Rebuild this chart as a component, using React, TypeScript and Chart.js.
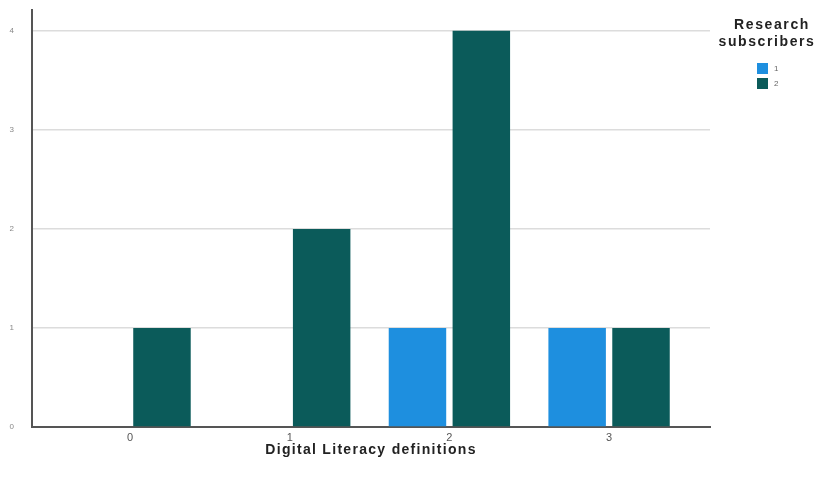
import React, { useEffect, useRef } from "react";
import { Chart, registerables } from "chart.js";

Chart.register(...registerables);

const categories = [0, 1, 2, 3];
const series1 = [0, 0, 1, 1];
const series2 = [1, 2, 4, 1];
const yTicks = [0, 1, 2, 3, 4];
const seriesNames = ["1", "2"];
const legendTitle = ["Research", "subscribers"];
const xTitle = "Digital Literacy definitions";

const BLUE = "#1e8fdf";
const TEAL = "#0b5b5a";

export default function App() {
  const ref = useRef<HTMLCanvasElement>(null);
  useEffect(() => {
    document.body.style.margin = "0";
    const overlay = {
      id: "overlay",
      afterDraw(chart: any) {
        const ctx = chart.ctx;
        const area = chart.chartArea;
        ctx.save();
        // x title
        ctx.fillStyle = "#222";
        ctx.font = "bold 14px 'Liberation Sans', Arial, sans-serif";
        (ctx as any).letterSpacing = "1.3px";
        ctx.textAlign = "center";
        ctx.textBaseline = "middle";
        ctx.fillText(xTitle, (area.left + area.right) / 2, 450);
        // legend title
        ctx.font = "bold 14px 'Liberation Sans', Arial, sans-serif";
        (ctx as any).letterSpacing = "1.6px";
        ctx.fillText(legendTitle[0], 772, 25);
        ctx.fillText(legendTitle[1], 767, 42);
        // legend items
        (ctx as any).letterSpacing = "0px";
        const colors = [BLUE, TEAL];
        ctx.font = "8px 'Liberation Sans', Arial, sans-serif";
        ctx.textAlign = "left";
        seriesNames.forEach((n, i) => {
          const y = 63 + i * 15;
          ctx.fillStyle = colors[i];
          ctx.fillRect(757, y, 11, 11);
          ctx.fillStyle = "#666";
          ctx.fillText(n, 774, y + 6);
        });
        ctx.restore();
      },
    };
    const chart = new Chart(ref.current!, {
      type: "bar",
      data: {
        labels: categories,
        datasets: [
          { label: seriesNames[0], data: series1, backgroundColor: BLUE, borderWidth: 0 },
          { label: seriesNames[1], data: series2, backgroundColor: TEAL, borderWidth: 0 },
        ],
      },
      options: {
        animation: false,
        responsive: false,
        layout: { padding: { top: 10, right: 115, left: 0, bottom: 0 } },
        plugins: { legend: { display: false }, tooltip: { enabled: false } },
        datasets: { bar: { categoryPercentage: 0.8, barPercentage: 0.9 } },
        scales: {
          x: {
            type: "linear",
            min: -0.614,
            max: 3.632,
            offset: false,
            afterBuildTicks: (s: any) => {
              s.ticks = categories.map((v) => ({ value: v }));
            },
            afterFit: (s: any) => {
              s.height = 63;
              s.paddingLeft = 0;
              s.paddingRight = 0;
            },
            ticks: {
              callback: (v: any) => String(v),
              color: "#555",
              font: { size: 11, family: "'Liberation Sans', Arial, sans-serif" },
              padding: 4,
              autoSkip: false,
              maxRotation: 0,
            },
            grid: { display: false, drawTicks: false },
            border: { color: "#555", width: 2 },
          },
          y: {
            min: 0,
            max: 4.21,
            afterBuildTicks: (s: any) => {
              s.ticks = yTicks.map((v) => ({ value: v }));
            },
            afterFit: (s: any) => {
              s.width = 32;
              s.paddingTop = 0;
              s.paddingBottom = 0;
            },
            ticks: {
              color: "#888",
              font: { size: 8, family: "'Liberation Sans', Arial, sans-serif" },
              padding: 18,
            },
            grid: { color: "#dcdcdc", lineWidth: 1.5, drawTicks: false },
            border: { color: "#555", width: 2 },
          },
        },
      },
      plugins: [overlay],
    } as any);
    return () => chart.destroy();
  }, []);
  return (
    <div style={{ position: "absolute", left: 0, top: 0, width: 825, height: 490, background: "#fff" }}>
      <canvas ref={ref} width={825} height={490} style={{ width: 825, height: 490 }} />
    </div>
  );
}
